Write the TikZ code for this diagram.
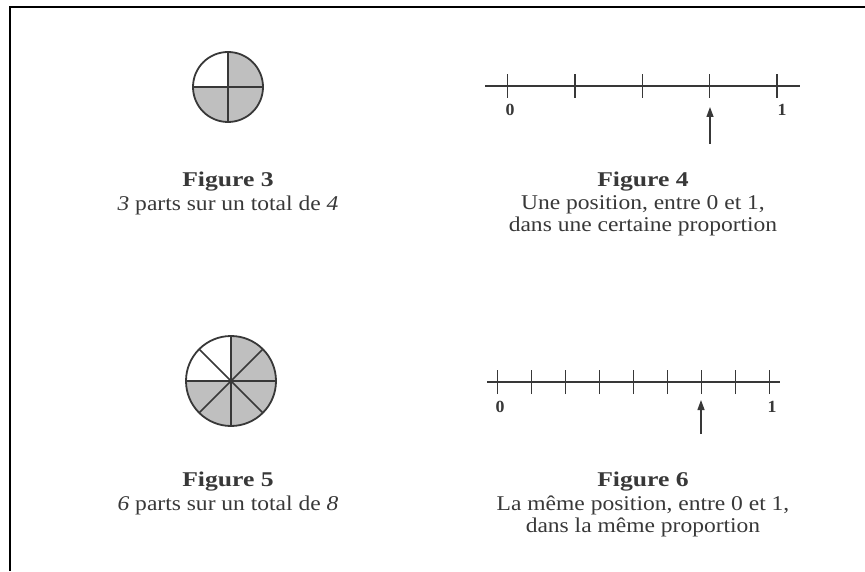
\documentclass[tikz,border=0pt]{standalone}
\usepackage{fontspec}
\setmainfont{Liberation Serif}
\usepackage{xcolor}
\usetikzlibrary{arrows.meta, positioning}
\definecolor{ink}{gray}{0.22}
\tikzset{
  figtitle/.style={font=\fontsize{21}{22}\selectfont\bfseries, text=ink, inner sep=0pt, xscale=1.22, transform shape},
  caption/.style={font=\fontsize{21}{22}\selectfont, text=ink, align=center, inner sep=0pt, xscale=1.12, transform shape},
  ticklabel/.style={font=\fontsize{17}{18}\selectfont\bfseries, text=ink, xscale=1.05, transform shape},
  shaded/.style={fill=gray!50},
  pointer/.style={-{Triangle[length=10pt, width=7pt]}, line width=1.3pt, ink},
}

\begin{document}
\begin{tikzpicture}[x=1pt, y=1pt, line width=1.4pt]
  \useasboundingbox (0,0) rectangle (865,571);
  % Frame
  \draw[line width=2pt, black] (10,0) -- (10,564) -- (865,564);

  % Figure 3
  \begin{scope}[shift={(228,484)}]
    \fill[shaded] (0,0) -- (90:35) arc[start angle=90, end angle=-180, radius=35] -- cycle;
    \draw[ink, line width=1.8pt] (0,0) circle (35);
    \draw[ink, line width=1.6pt] (-35,0) -- (35,0) (0,-35) -- (0,35);
  \end{scope}
  \node[figtitle] (title3) at (228,389) {Figure 3};
  \node[caption, below=3pt of title3.south] (cap3) {\textit{3} parts sur un total de \textit{4}};

  % Figure 4
  \begin{scope}[shift={(0,485)}]
    \draw[ink] (485,0) -- (800,0);
    \foreach \k in {0,...,4}
      \draw[ink] (507.7+67.3*\k,-12) -- (507.7+67.3*\k,12);
    \node[ticklabel] (zero4) at (510,-24) {0};
    \node[ticklabel] (one4) at (782,-24) {1};
    \coordinate (tail4) at (710,-58);
    \coordinate (tip4) at (710,-21);
    \draw[pointer] (tail4) -- (tip4);
  \end{scope}
  \node[figtitle] (title4) at (643,389) {Figure 4};
  \node[caption, below=3pt of title4.south] (cap4) {Une position, entre 0 et 1,\\dans une certaine proportion};

  % Figure 5
  \begin{scope}[shift={(231,190)}]
    \fill[shaded] (0,0) -- (90:45) arc[start angle=90, end angle=-180, radius=45] -- cycle;
    \draw[ink, line width=1.8pt] (0,0) circle (45);
    \foreach \a in {0,45,...,135}
      \draw[ink, line width=1.6pt] (\a:45) -- (\a+180:45);
  \end{scope}
  \node[figtitle] (title5) at (228,89) {Figure 5};
  \node[caption, below=3pt of title5.south] (cap5) {\textit{6} parts sur un total de \textit{8}};

  % Figure 6
  \begin{scope}[shift={(0,189)}]
    \draw[ink] (487,0) -- (780,0);
    \foreach \k in {0,...,8}
      \draw[ink] (497.3+34*\k,-12) -- (497.3+34*\k,12);
    \node[ticklabel] (zero6) at (500,-25) {0};
    \node[ticklabel] (one6) at (772,-25) {1};
    \coordinate (tail6) at (701,-52);
    \coordinate (tip6) at (701,-18);
    \draw[pointer] (tail6) -- (tip6);
  \end{scope}
  \node[figtitle] (title6) at (643,89) {Figure 6};
  \node[caption, below=3pt of title6.south] (cap6) {La même position, entre 0 et 1,\\dans la même proportion};
\end{tikzpicture}
\end{document}
